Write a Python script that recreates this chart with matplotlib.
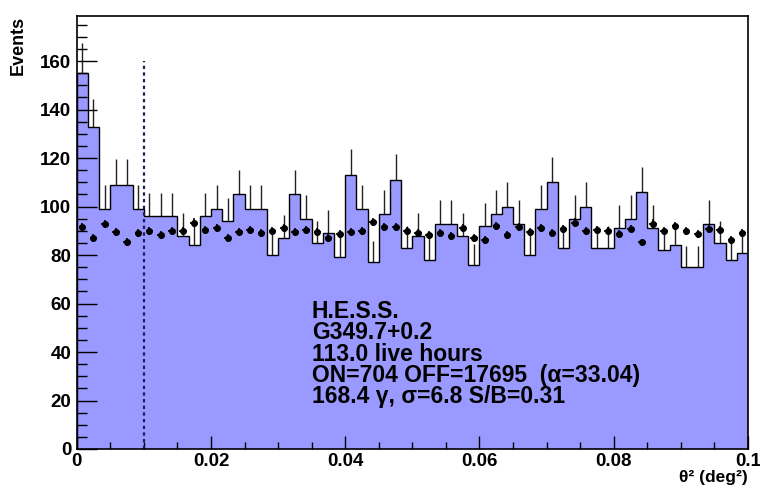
import numpy as np
import matplotlib
matplotlib.use("Agg")
import matplotlib.pyplot as plt
from matplotlib.ticker import MultipleLocator

plt.rcParams['font.family'] = ['Liberation Sans', 'DejaVu Sans']

# theta^2 histogram, 60 bins from 0 to 0.1
x_min, x_max, n_bins = 0.0, 0.1, 60
on_counts = [155, 133, 99, 109, 109, 99, 96, 96, 96, 88, 84, 96, 99, 94, 105, 99, 99, 80, 87, 105,
             95, 85, 89, 79, 113, 99, 77, 97, 111, 83, 88, 78, 93, 93, 88, 76, 92, 97, 100, 93,
             80, 99, 110, 83, 95, 100, 83, 83, 91, 95, 106, 91, 82, 84, 75, 75, 93, 85, 78, 81]
off_scaled = [91.7, 87.2, 92.7, 89.5, 85.4, 89.2, 90.1, 88.4, 89.8, 90.1, 93.4, 90.2, 91.3, 87.2, 89.4,
              90.5, 89.0, 89.8, 91.3, 89.4, 90.2, 89.4, 87.0, 88.8, 89.4, 89.9, 93.7, 91.7, 91.6, 89.8,
              89.0, 88.1, 89.0, 87.9, 91.3, 86.9, 86.1, 92.0, 88.1, 91.6, 89.5, 91.2, 89.0, 90.6, 93.4,
              90.1, 90.5, 89.8, 88.6, 90.9, 85.2, 93.0, 89.8, 92.0, 89.8, 88.6, 90.6, 90.3, 86.1, 89.2]
alpha = 33.04
theta2_cut = 0.01
info_lines = ["H.E.S.S.",
              "G349.7+0.2",
              "113.0 live hours",
              "ON=704 OFF=17695  (\u03b1=33.04)",
              "168.4 \u03b3, \u03c3=6.8 S/B=0.31"]

edges = np.linspace(x_min, x_max, n_bins + 1)
centers = 0.5 * (edges[:-1] + edges[1:])
width = edges[1] - edges[0]
on = np.array(on_counts, dtype=float)
off = np.array(off_scaled)
off_err = np.sqrt(off * alpha) / alpha

fig = plt.figure(figsize=(7.6, 4.9), dpi=100)
ax = fig.add_axes([0.1009, 0.0837, 0.8833, 0.8836])

# ON histogram: poisson error bars, then fill on top hides the lower half
ax.vlines(centers, on - np.sqrt(on), on + np.sqrt(on), color='#222222', lw=1.0, zorder=1)
ax.stairs(on, edges, fill=True, color='#9999ff', zorder=2)
ax.stairs(on, edges, color='black', lw=1.0, zorder=3)

# scaled OFF points
ax.errorbar(centers, off, xerr=width * 0.33, yerr=off_err, fmt='o', color='black',
            ms=4, elinewidth=1.2, capsize=0, zorder=5)

ax.vlines(theta2_cut, 0, 160, colors='#1c1c5a', linestyles=(0, (1.5, 1.5)), lw=1.6, zorder=4)

ax.set_xlim(x_min, x_max)
ax.set_ylim(0, 178.6)
ax.xaxis.set_major_locator(MultipleLocator(0.02))
ax.xaxis.set_minor_locator(MultipleLocator(0.005))
ax.yaxis.set_major_locator(MultipleLocator(20))
ax.yaxis.set_minor_locator(MultipleLocator(5))
ax.xaxis.set_major_formatter(plt.FuncFormatter(lambda v, p: '0' if v == 0 else ('%g' % round(v, 3))))
ax.tick_params(axis='y', which='major', direction='in', length=14.4, width=1, labelsize=13.5, pad=4)
ax.tick_params(axis='y', which='minor', direction='in', length=7.2, width=1)
ax.tick_params(axis='x', which='major', direction='in', length=9.5, width=1, labelsize=13.5, pad=3)
ax.tick_params(axis='x', which='minor', direction='in', length=4.8, width=1)
for lab in ax.get_xticklabels() + ax.get_yticklabels():
    lab.set_fontweight('bold')
for sp in ax.spines.values():
    sp.set_linewidth(1.2)
    sp.set_zorder(6)
ax.set_axisbelow(False)

fig.text(0.024, 0.967, 'Events', rotation=90, ha='center', va='top', fontsize=13, fontweight='bold')
fig.text(0.984, 0.010, '\u03b8\u00b2 (deg\u00b2)', ha='right', va='bottom', fontsize=12.5, fontweight='bold')

for i, line in enumerate(info_lines):
    ax.text(0.350, (449 - 318 - i * 21.3) / 433.0, line, transform=ax.transAxes,
            ha='left', va='baseline', fontsize=16.5, fontweight='bold', zorder=7)

fig.savefig('out.png', dpi=100)
